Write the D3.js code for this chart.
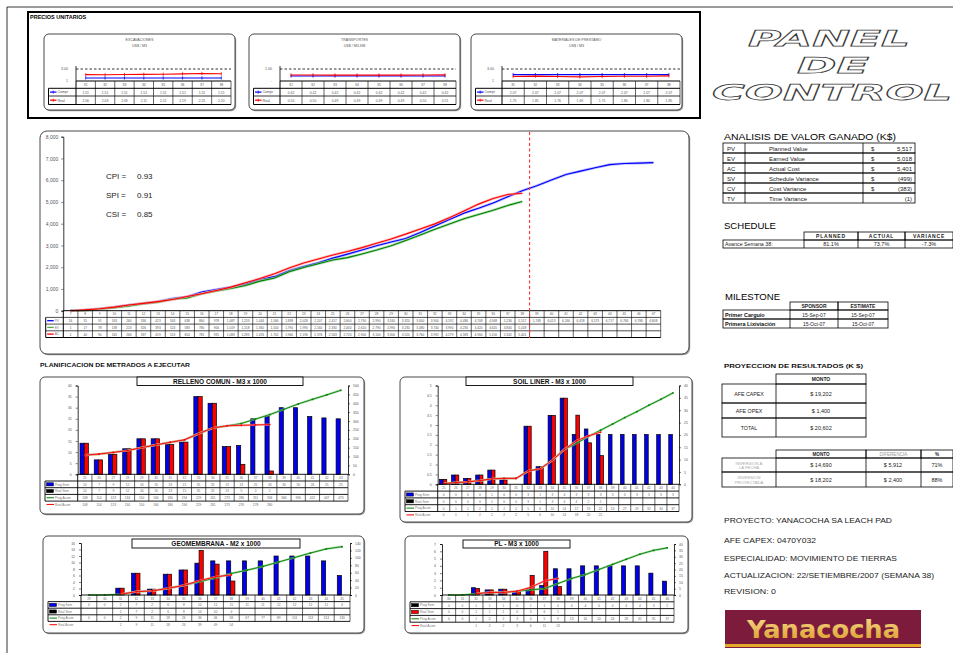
<!DOCTYPE html>
<html>
<head>
<meta charset="utf-8">
<script src="https://cdn.jsdelivr.net/npm/d3@7"></script>
<style>
  body { margin: 0; background: #fff; }
  svg { display: block; font-family: "Liberation Sans", Arial, sans-serif; }
</style>
</head>
<body>
<script>
// ---------- precios unitarios (semanas 31-38) ----------
var puWeeks  = ['31', '32', '33', '34', '35', '36', '37', '38'];
var excCompr = [1.51, 1.51, 1.51, 1.51, 1.51, 1.51, 1.51, 1.51];
var excReal  = [2.06, 2.03, 2.09, 2.11, 2.12, 2.19, 2.25, 2.20];
var traCompr = [0.42, 0.42, 0.42, 0.42, 0.42, 0.42, 0.42, 0.42];
var traReal  = [0.50, 0.50, 0.49, 0.49, 0.49, 0.49, 0.50, 0.51];
var matCompr = [2.07, 2.07, 2.07, 2.07, 2.07, 2.07, 2.07, 2.07];
var matReal  = [1.75, 1.81, 1.76, 1.69, 1.75, 1.80, 1.80, 1.85];

// ---------- curva S valor ganado (K$) ----------
var evWeeks = ['7','8','9','10','11','12','13','14','15','16','17','18','19','20','21','22','23','24','25','26','27',
               '28','29','30','31','32','33','34','35','36','37','38','39','40','41','42','43','44','45','46','47'];
var pvData = [16, 31, 91, 163, 260, 336, 423, 563, 638, 860, 978, 1087, 1233, 1444, 1566, 1838, 2028, 2207, 2417, 2600, 2790,
              2990, 3160, 3320, 3600, 3900, 4192, 4486, 4708, 4948, 5236, 5517, 5748, 6013, 6266, 6418, 6573, 6717, 6766, 6786, 6808];
var evData = [1, 17, 78, 138, 213, 326, 393, 524, 583, 780, 906, 1019, 1158, 1360, 1500, 1790, 1990, 2160, 2330, 2440, 2610,
              2790, 2990, 3230, 3480, 3740, 3990, 4230, 4420, 4620, 4840, 5018];
var acData = [1, 40, 90, 165, 264, 337, 419, 513, 654, 781, 931, 1083, 1283, 1476, 1702, 1960, 2196, 2376, 2563, 2720, 2900,
              3100, 3300, 3520, 3760, 3992, 4279, 4583, 4900, 5156, 5342, 5401];
var evTicks = [0, 1000, 2000, 3000, 4000, 5000, 6000, 7000, 8000];
var indexNames  = ['CPI =', 'SPI =', 'CSI ='];
var indexValues = ['0.93', '0.91', '0.85'];

// ---------- tablas de la derecha ----------
var evmCodes  = ['PV', 'EV', 'AC', 'SV', 'CV', 'TV'];
var evmNames  = ['Planned Value', 'Earned Value', 'Actual Cost', 'Schedule Variance', 'Cost Variance', 'Time Variance'];
var evmValues = ['5,517', '5,018', '5,401', '(499)', '(383)', '(1)'];
var schedHeads  = ['PLANNED', 'ACTUAL', 'VARIANCE'];
var schedValues = ['81.1%', '73.7%', '-7.3%'];
var mileHeads = ['SPONSOR', 'ESTIMATE'];
var mileNames = ['Primer Carguío', 'Primera Lixiviación'];
var mileDates = [['15-Sep-07', '15-Sep-07'], ['15-Oct-07', '15-Oct-07']];
var afeNames  = ['AFE CAPEX', 'AFE OPEX', 'TOTAL'];
var afeMontos = ['$ 19,202', '$ 1,400', '$ 20,602'];
var invNames  = [['INVERSION A', 'LA FECHA'], ['INVERSION', 'PROYECTADA']];
var invMontos = ['$ 14,690', '$ 18,202'];
var invDifs   = ['$ 5,912', '$ 2,400'];
var invPcts   = ['71%', '88%'];
var infoLines = ['PROYECTO: YANACOCHA SA LEACH PAD', 'AFE CAPEX: 0470Y032', 'ESPECIALIDAD: MOVIMIENTO DE TIERRAS',
                 'ACTUALIZACION: 22/SETIEMBRE/2007 (SEMANA 38)', 'REVISION: 0'];

// ---------- planificacion de metrados ----------
var rellCats = ['25','26','27','28','29','30','31','32','33','34','35','36','37','38','39','40','41','42','43'];
var rellProgSem  = [14, 6.5, 9, 11.5, 16, 16, 13.4, 14.5, 35, 32, 12.5, 13, 25, 26, 30, 30, 26, 25.4, 25];
var rellRealSem  = [14, 6.5, 9, 11.5, 16, 16, 13.4, 14.5, 35, 32, 12.5, 4.5, 0, 1.5];
var rellProgAcum = [108, 114, 123, 134, 150, 166, 180, 194, 229, 261, 273, 286, 311, 336, 366, 396, 422, 447, 473];
var rellRealAcum = [108, 114, 123, 134, 150, 166, 180, 194, 229, 261, 273, 276, 278, 280];

var soilCats = ['25','26','27','28','29','30','31','32','33','34','35','36','37','38','39','40','41','42','43','44'];
var soilProgSem  = [0.25, 0.47, 0.3, 0.47, 0.72, 0.22, 0, 2.94, 0.89, 3.49, 4.36, 2.52, 2.8, 2.52, 2.52, 2.52, 2.52, 2.52, 2.52, 2.52];
var soilRealSem  = [0.25, 0.47, 0.3, 0.47, 0.72, 0.22, 0, 2.94, 0.89, 3.49, 4.36, 3.5, 2.1, 1.45];
var soilProgAcum = [0.3, 0.7, 1, 1.5, 2.2, 2.4, 2.4, 5.4, 6.3, 9.7, 14.1, 16.6, 19.4, 21.9, 24.4, 27, 29.4, 32, 34.4, 37];
var soilRealAcum = [0.3, 0.7, 1, 1.5, 2.2, 2.4, 2.4, 5.4, 6.3, 9.7, 14.1, 17.6, 19.6, 21.1];

var geoCats = ['29','30','31','32','33','34','35','36','37','38','39','40','41','42','43','44','45'];
var geoProgSem  = [0, 0, 2.1, 6.7, 1.8, 6.4, 7.7, 9.8, 10.5, 10.5, 10.5, 10.5, 12, 12, 12, 10.5, 6];
var geoRealSem  = [null, null, 2.1, 6.7, 1.8, 6.4, 7.7, 13.7, 9.5, 4.3];
var geoProgAcum = [0, 0, 2, 9, 11, 18, 26, 36, 46, 58, 67, 77, 89, 101, 113, 124, 130];
var geoRealAcum = [null, null, 2, 9, 11, 18, 26, 39, 49, 54];

var plCats = ['30','31','32','33','34','35','36','37','38','39','40','41','42','43','44','45','46'];
var plProgSem  = [0, 0, 1, 0.7, 0.8, 0.45, 0.9, 1.3, 3.6, 3.6, 4, 4, 4, 4, 4, 3, 1.9];
var plRealSem  = [0, 0, 0.9, 0.7, 0.8, 0.45, 2.7, 6, 1.15];
var plProgAcum = [0, 0, 1, 2, 2, 3, 4, 5, 9, 13, 16, 20, 24, 28, 32, 35, 37];
var plRealAcum = [null, null, 1, 2, 2, 3, 6, 11, 13];

var rowNames = ['Prog Sem', 'Real Sem', 'Prog Acum', 'Real Acum'];

// ---------- page ----------
var svg = d3.select('body').append('svg')
  .attr('width', 953)
  .attr('height', 653);

var fmt0 = d3.format('.0f');
var fmt2 = d3.format('.2f');

function txt(g, x, y, s, size, anchor, fill, weight) {
  return g.append('text')
    .attr('x', x).attr('y', y)
    .attr('font-size', size)
    .attr('text-anchor', anchor || 'start')
    .attr('fill', fill || '#000')
    .attr('font-weight', weight || 'normal')
    .text(s);
}

function hline(g, x1, x2, y, w, col) {
  g.append('line').attr('x1', x1).attr('x2', x2).attr('y1', y).attr('y2', y)
    .attr('stroke', col || '#000').attr('stroke-width', w || 0.6);
}
function vline(g, x, y1, y2, w, col) {
  g.append('line').attr('x1', x).attr('x2', x).attr('y1', y1).attr('y2', y2)
    .attr('stroke', col || '#000').attr('stroke-width', w || 0.6);
}

function roundBox(g, x0, y0, x1, y1, r) {
  g.append('rect').attr('x', x0 + 1.2).attr('y', y0 + 1.2)
    .attr('width', x1 - x0).attr('height', y1 - y0).attr('rx', r)
    .attr('fill', '#9a9a9a');
  g.append('rect').attr('x', x0).attr('y', y0)
    .attr('width', x1 - x0).attr('height', y1 - y0).attr('rx', r)
    .attr('fill', '#fff').attr('stroke', '#333').attr('stroke-width', 0.9);
}

function styleAxis(a, size) {
  a.attr('font-family', null).attr('font-size', size);
  a.selectAll('text').attr('fill', '#555');
  a.selectAll('line').attr('stroke', '#000').attr('stroke-width', 0.5);
  a.select('.domain').attr('stroke', '#000').attr('stroke-width', 0.8);
}

// outer page lines
vline(svg, 7, 7, 653, 0.8);
hline(svg, 7, 953, 7, 0.8);

// ---------- PRECIOS UNITARIOS ----------
var gPu = svg.append('g');
gPu.append('rect').attr('x', 28).attr('y', 12).attr('width', 672).attr('height', 106)
  .attr('fill', 'none').attr('stroke', '#000').attr('stroke-width', 2);
txt(gPu, 30, 19, 'PRECIOS UNITARIOS', 5.5, 'start', '#000', 'bold');

var puPanels = [
  { x0: 44,  x1: 235, lab: 76,  right: 231, t1: 'EXCAVACIONES', t2: 'US$ / M3', compr: excCompr, real: excReal, dom: [1, 3], ticks: ['1', '3.00'] },
  { x0: 249, x1: 460, lab: 280, right: 456, t1: 'TRANSPORTES', t2: 'US$ / M3-KM', compr: traCompr, real: traReal, dom: [0, 1], ticks: ['-', '1.00'] },
  { x0: 471, x1: 682, lab: 502, right: 680, t1: 'MATERIALES DE PRESTAMO', t2: 'US$ / M3', compr: matCompr, real: matReal, dom: [1, 3], ticks: ['1', '3.00'] }
];

puPanels.forEach(function(p) {
  var g = gPu.append('g');
  roundBox(g, p.x0, 34, p.x1, 110, 5);
  txt(g, (p.x0 + p.x1) / 2, 41, p.t1, 3.6, 'middle', '#555');
  txt(g, (p.x0 + p.x1) / 2, 47, p.t2, 3.6, 'middle', '#555');

  var x = d3.scaleBand().domain(puWeeks).range([p.lab, p.right]);
  var y = d3.scaleLinear().domain(p.dom).range([81, 69]);
  var tl = p.x0 + 4.5;

  vline(g, p.lab, 66, 81, 0.8);
  g.append('line').attr('x1', p.lab).attr('x2', p.right).attr('y1', y(p.dom[1])).attr('y2', y(p.dom[1]))
    .attr('stroke', '#000').attr('stroke-width', 0.8).attr('stroke-dasharray', '2.5,2');
  txt(g, p.lab - 8, y(p.dom[1]) + 1.3, p.ticks[1], 3.6, 'end', '#555');
  txt(g, p.lab - 8, 81 + 1.3, p.ticks[0], 3.6, 'end', '#555');

  var line = d3.line()
    .x(function(d, i) { return x(puWeeks[i]) + x.bandwidth() / 2; })
    .y(function(d) { return y(d); });
  [[p.compr, '#0000ff'], [p.real, '#ff0000']].forEach(function(s) {
    g.append('path').attr('d', line(s[0])).attr('fill', 'none')
      .attr('stroke', s[1]).attr('stroke-width', 1.1);
    g.selectAll(null).data(s[0]).enter().append('line')
      .attr('x1', function(d, i) { return x(puWeeks[i]) + x.bandwidth() / 2; })
      .attr('x2', function(d, i) { return x(puWeeks[i]) + x.bandwidth() / 2; })
      .attr('y1', function(d) { return y(d) - 1.6; })
      .attr('y2', function(d) { return y(d) + 1.6; })
      .attr('stroke', s[1]).attr('stroke-width', 0.8);
  });

  // table
  var ys = [81, 88.3, 96, 104.5];
  hline(g, p.lab, p.right, ys[0], 1);
  hline(g, tl, p.right, ys[1], 1);
  hline(g, tl, p.right, ys[2], 0.8);
  hline(g, tl, p.right, ys[3], 1);
  vline(g, tl, ys[1], ys[3], 1);
  vline(g, p.lab, ys[0], ys[3], 1);
  puWeeks.forEach(function(w) { vline(g, x(w) + x.bandwidth(), ys[0], ys[3], 0.6); });
  puWeeks.forEach(function(w, i) {
    var cx = x(w) + x.bandwidth() / 2;
    txt(g, cx, 86, w, 3.4, 'middle', '#555');
    txt(g, cx, 93.5, fmt2(p.compr[i]), 3.4, 'middle', '#555');
    txt(g, cx, 101.6, fmt2(p.real[i]), 3.4, 'middle', '#555');
  });
  [['Compr', '#0000ff', 92.1], ['Real', '#ff0000', 100.2]].forEach(function(r) {
    hline(g, tl + 1.5, tl + 8, r[2], 1.2, r[1]);
    vline(g, tl + 4.7, r[2] - 1.5, r[2] + 1.5, 0.8, r[1]);
    txt(g, tl + 9, r[2] + 1.3, r[0], 3.6, 'start', '#555');
  });
});

// ---------- PANEL DE CONTROL ----------
var gTitle = svg.append('g')
  .attr('font-family', '"DejaVu Sans", sans-serif')
  .attr('font-weight', 'bold')
  .attr('font-style', 'italic');
[['PANEL', 748, 46, 162], ['DE', 797, 73, 72], ['CONTROL', 712, 100, 240]].forEach(function(t) {
  gTitle.append('text').attr('x', t[1]).attr('y', t[2])
    .attr('font-size', 22)
    .attr('textLength', t[3]).attr('lengthAdjust', 'spacingAndGlyphs')
    .attr('fill', '#fff').attr('stroke', '#3a3a3a').attr('stroke-width', 0.75)
    .text(t[0]);
});

// ---------- CURVA S ----------
var gEv = svg.append('g');
roundBox(gEv, 40, 131, 689, 354, 7);

var xEv = d3.scaleBand().domain(evWeeks).range([63.3, 660.7]);
var yEv = d3.scaleLinear().domain([0, 8000]).range([310.7, 136.7]);
var bwEv = xEv.bandwidth();

gEv.append('g').attr('transform', 'translate(63.3,0)')
  .call(d3.axisLeft(yEv).tickValues(evTicks).tickFormat(d3.format(',')).tickSize(2).tickPadding(3))
  .call(function(a) { styleAxis(a, 5); });

function evLine(data) {
  return d3.line()
    .x(function(d, i) { return xEv(evWeeks[i]) + bwEv / 2; })
    .y(function(d) { return yEv(d); })(data);
}

[[pvData, '#0000ff', '#9c9cff'], [evData, '#008000', '#8fd08f'], [acData, '#ff0000', '#ff9c9c']].forEach(function(s) {
  gEv.append('path').attr('d', evLine(s[0])).attr('fill', 'none')
    .attr('stroke', s[2]).attr('stroke-width', 2.6).attr('stroke-opacity', 0.7);
  gEv.append('path').attr('d', evLine(s[0])).attr('fill', 'none')
    .attr('stroke', s[1]).attr('stroke-width', 1.1);
});

indexNames.forEach(function(n, i) {
  var yy = 179 + i * 19;
  txt(gEv, 106, yy, n, 8, 'start', '#222');
  txt(gEv, 137, yy, indexValues[i], 8, 'start', '#222');
});

// tabla curva S
var evRows = [310.7, 317.4, 324.1, 330.8, 337.5];
var evTl = 45.7;
hline(gEv, 63.3, 660.7, evRows[0], 1);
for (var r = 1; r < evRows.length; r++) hline(gEv, evTl, 660.7, evRows[r], r === evRows.length - 1 ? 1 : 0.7);
vline(gEv, evTl, evRows[1], evRows[4], 1);
vline(gEv, 63.3, evRows[0], evRows[4], 1);
evWeeks.forEach(function(w) { vline(gEv, xEv(w) + bwEv, evRows[0], evRows[4], 0.6); });
var fmtK = d3.format(',');
evWeeks.forEach(function(w, i) {
  var cx = xEv(w) + bwEv / 2;
  txt(gEv, cx, 315.4, w, 3.2, 'middle', '#555');
  txt(gEv, cx, 322.1, fmtK(pvData[i]), 3.2, 'middle', '#555');
  if (evData[i] != null) txt(gEv, cx, 328.8, fmtK(evData[i]), 3.2, 'middle', '#555');
  if (acData[i] != null) txt(gEv, cx, 335.5, fmtK(acData[i]), 3.2, 'middle', '#555');
});
[['PV', '#0000ff', 320.7], ['EV', '#55aa55', 327.4], ['AC', '#ff0000', 334.1]].forEach(function(l) {
  hline(gEv, evTl + 1.5, evTl + 8, l[2], 1.3, l[1]);
  txt(gEv, evTl + 9, l[2] + 1.2, l[0], 3.2, 'start', '#777');
});

// corte semana 38
var cutX = xEv('38') + bwEv;
gEv.append('line').attr('x1', cutX).attr('x2', cutX).attr('y1', 132).attr('y2', 338)
  .attr('stroke', '#ff3333').attr('stroke-width', 1.1).attr('stroke-dasharray', '3,2.5');

// ---------- ANALISIS DE VALOR GANADO ----------
var gR = svg.append('g');
txt(gR, 724, 140, 'ANALISIS DE VALOR GANADO (K$)', 8.5).attr('textLength', 172).attr('lengthAdjust', 'spacingAndGlyphs');
var evmY = d3.scaleBand().domain(evmCodes).range([143, 203]);
evmCodes.forEach(function(c, i) {
  var y0 = evmY(c), h = evmY.bandwidth();
  gR.append('rect').attr('x', 723).attr('y', y0).attr('width', 192).attr('height', h)
    .attr('fill', 'none').attr('stroke', '#000').attr('stroke-width', 0.8);
  vline(gR, 745, y0, y0 + h, 0.8);
  vline(gR, 863, y0, y0 + h, 0.8);
  txt(gR, 727, y0 + h - 2.5, c, 6, 'start', '#222');
  txt(gR, 769, y0 + h - 2.5, evmNames[i], 6, 'start', '#222');
  if (c !== 'TV') txt(gR, 871, y0 + h - 2.5, '$', 6, 'start', '#222');
  txt(gR, 912, y0 + h - 2.5, evmValues[i], 6, 'end', '#222');
});

// ---------- SCHEDULE ----------
txt(gR, 724, 229, 'SCHEDULE', 8.5).attr('textLength', 52).attr('lengthAdjust', 'spacingAndGlyphs');
var schX = [723, 804, 858, 905, 953];
schedHeads.forEach(function(h, i) {
  gR.append('rect').attr('x', schX[i + 1]).attr('y', 232).attr('width', schX[i + 2] - schX[i + 1]).attr('height', 8)
    .attr('fill', 'none').attr('stroke', '#000').attr('stroke-width', 0.8);
  txt(gR, (schX[i + 1] + schX[i + 2]) / 2, 238.3, h, 5, 'middle', '#222', 'bold').attr('letter-spacing', 0.8);
});
gR.append('rect').attr('x', 723).attr('y', 240).attr('width', 230).attr('height', 8)
  .attr('fill', 'none').attr('stroke', '#000').attr('stroke-width', 0.8);
for (var s = 1; s < 4; s++) vline(gR, schX[s], 240, 248, 0.8);
txt(gR, 725, 246.2, 'Avance Semana 38:', 5.3, 'start', '#222');
schedValues.forEach(function(v, i) {
  txt(gR, (schX[i + 1] + schX[i + 2]) / 2, 246.2, v, 5.5, 'middle', '#222');
});

// ---------- MILESTONE ----------
txt(gR, 725, 300, 'MILESTONE', 8.5).attr('textLength', 55).attr('lengthAdjust', 'spacingAndGlyphs');
var msX = [723, 790, 838, 888];
mileHeads.forEach(function(h, i) {
  gR.append('rect').attr('x', msX[i + 1]).attr('y', 302).attr('width', msX[i + 2] - msX[i + 1]).attr('height', 8)
    .attr('fill', 'none').attr('stroke', '#000').attr('stroke-width', 0.8);
  txt(gR, (msX[i + 1] + msX[i + 2]) / 2, 308.2, h, 5, 'middle', '#222', 'bold');
});
mileNames.forEach(function(n, i) {
  var y0 = 310 + i * 9;
  gR.append('rect').attr('x', 723).attr('y', y0).attr('width', 165).attr('height', 9)
    .attr('fill', 'none').attr('stroke', '#000').attr('stroke-width', 0.8);
  vline(gR, 790, y0, y0 + 9, 0.8);
  vline(gR, 838, y0, y0 + 9, 0.8);
  txt(gR, 725, y0 + 6.8, n, 5.5, 'start', '#111', 'bold');
  txt(gR, 814, y0 + 6.6, mileDates[i][0], 5, 'middle', '#222');
  txt(gR, 863, y0 + 6.6, mileDates[i][1], 5, 'middle', '#222');
});

// ---------- PROYECCION ----------
txt(gR, 724, 368, 'PROYECCION DE RESULTADOS (K $)', 6.2, 'start', '#111', 'bold').attr('textLength', 139).attr('lengthAdjust', 'spacingAndGlyphs');
var p1Y = [374, 384, 403, 418, 437];
gR.append('rect').attr('x', 776).attr('y', 374).attr('width', 90).attr('height', 10)
  .attr('fill', 'none').attr('stroke', '#000').attr('stroke-width', 0.8);
txt(gR, 821, 381.2, 'MONTO', 5, 'middle', '#222', 'bold');
afeNames.forEach(function(n, i) {
  var y0 = p1Y[i + 1], y1 = p1Y[i + 2];
  gR.append('rect').attr('x', 722).attr('y', y0).attr('width', 144).attr('height', y1 - y0)
    .attr('fill', 'none').attr('stroke', '#000').attr('stroke-width', 0.8);
  vline(gR, 776, y0, y1, 0.8);
  txt(gR, 749, (y0 + y1) / 2 + 2, n, 5.3, 'middle', '#222');
  txt(gR, 821, (y0 + y1) / 2 + 2, afeMontos[i], 5.5, 'middle', '#222');
});

var p2X = [722, 776, 866, 921, 953];
var p2Y = [450, 458, 472, 487];
[['MONTO', '#222', 'bold'], ['DIFERENCIA', '#999', 'normal'], ['%', '#222', 'bold']].forEach(function(h, i) {
  gR.append('rect').attr('x', p2X[i + 1]).attr('y', 450).attr('width', p2X[i + 2] - p2X[i + 1]).attr('height', 8)
    .attr('fill', 'none').attr('stroke', '#000').attr('stroke-width', 0.8);
  txt(gR, (p2X[i + 1] + p2X[i + 2]) / 2, 456, h[0], 4.6, 'middle', h[1], h[2]);
});
invNames.forEach(function(n, i) {
  var y0 = p2Y[i + 1], y1 = p2Y[i + 2], cy = (y0 + y1) / 2;
  gR.append('rect').attr('x', 722).attr('y', y0).attr('width', 231).attr('height', y1 - y0)
    .attr('fill', 'none').attr('stroke', '#000').attr('stroke-width', 0.8);
  for (var k = 1; k < 4; k++) vline(gR, p2X[k], y0, y1, 0.8);
  txt(gR, 749, cy - 0.5, n[0], 4.2, 'middle', '#aaa');
  txt(gR, 749, cy + 4.3, n[1], 4.2, 'middle', '#aaa');
  txt(gR, 821, cy + 2, invMontos[i], 5.5, 'middle', '#222');
  txt(gR, 893, cy + 2, invDifs[i], 5.5, 'middle', '#222');
  txt(gR, 937, cy + 2, invPcts[i], 5.5, 'middle', '#222');
});

// ---------- info proyecto ----------
var infoY = [523, 543, 561, 578, 594];
var infoW = [168, 92, 173, 210, 52];
infoLines.forEach(function(l, i) {
  txt(gR, 724, infoY[i], l, 7.5, 'start', '#222').attr('textLength', infoW[i]).attr('lengthAdjust', 'spacingAndGlyphs');
});

// logo
gR.append('rect').attr('x', 725).attr('y', 610).attr('width', 196).attr('height', 38).attr('fill', '#7d1b3d');
gR.append('rect').attr('x', 725).attr('y', 644).attr('width', 196).attr('height', 3).attr('fill', '#e3a92c');
var grad = svg.append('defs').append('linearGradient').attr('id', 'gold').attr('x1', 0).attr('y1', 0).attr('x2', 0).attr('y2', 1);
grad.append('stop').attr('offset', '0%').attr('stop-color', '#f6d98a');
grad.append('stop').attr('offset', '100%').attr('stop-color', '#d99a22');
gR.append('text').attr('x', 747).attr('y', 638)
  .attr('font-family', '"DejaVu Sans", sans-serif').attr('font-weight', 'bold')
  .attr('font-size', 24).attr('fill', 'url(#gold)')
  .attr('textLength', 153).attr('lengthAdjust', 'spacingAndGlyphs')
  .text('Yanacocha');

// ---------- PLANIFICACION DE METRADOS ----------
txt(svg, 40, 367, 'PLANIFICACION DE METRADOS A EJECUTAR', 6, 'start', '#111', 'bold')
  .attr('textLength', 150).attr('lengthAdjust', 'spacingAndGlyphs');

function barChart(c) {
  var g = svg.append('g');
  roundBox(g, c.box[0], c.box[1], c.box[2], c.box[3], 5);
  g.append('rect').attr('x', c.tbox[0]).attr('y', c.tbox[1]).attr('width', c.tbox[2] - c.tbox[0])
    .attr('height', c.tbox[3] - c.tbox[1]).attr('fill', '#fff').attr('stroke', '#000').attr('stroke-width', 0.9);
  txt(g, (c.tbox[0] + c.tbox[2]) / 2, c.tbox[3] - 1.8, c.title, 6.5, 'middle', '#111', 'bold');

  var x = d3.scaleBand().domain(c.cats).range([c.left, c.right]);
  var bw = x.bandwidth();
  var yL = d3.scaleLinear().domain([0, c.lMax]).range([c.zero, c.top]);
  var yR = d3.scaleLinear().domain([0, c.rMax]).range([c.zero, c.top]);

  g.append('g').attr('transform', 'translate(' + c.left + ',0)')
    .call(d3.axisLeft(yL).tickValues(c.lTicks).tickFormat(d3.format('')).tickSize(2).tickPadding(4))
    .call(function(a) { styleAxis(a, 3.4); });
  g.append('g').attr('transform', 'translate(' + c.right + ',0)')
    .call(d3.axisRight(yR).tickValues(c.rTicks).tickFormat(d3.format('')).tickSize(2).tickPadding(3))
    .call(function(a) { styleAxis(a, 3.4); });

  // barras semanales
  var bwid = Math.min(4.2, bw * 0.3);
  c.cats.forEach(function(k, i) {
    var cx = x(k) + bw / 2;
    var ps = c.progSem[i], rs = c.realSem[i];
    if (ps) {
      g.append('rect').attr('x', cx - bwid - 0.6).attr('y', yL(ps)).attr('width', bwid).attr('height', c.zero - yL(ps))
        .attr('fill', c.progCol).attr('stroke', '#000').attr('stroke-width', 0.7);
    }
    if (rs) {
      g.append('rect').attr('x', cx - 0.6).attr('y', yL(rs)).attr('width', bwid).attr('height', c.zero - yL(rs))
        .attr('fill', '#ff0000').attr('stroke', '#000').attr('stroke-width', 0.7);
    }
  });

  // lineas acumuladas
  var line = d3.line()
    .defined(function(d) { return d != null; })
    .x(function(d, i) { return x(c.cats[i]) + bw / 2; })
    .y(function(d) { return yR(d); });
  [[c.progAcum, '#008000', '#88cc88'], [c.realAcum, '#ff0000', '#ff9999']].forEach(function(s) {
    g.append('path').attr('d', line(s[0])).attr('fill', 'none')
      .attr('stroke', s[2]).attr('stroke-width', 2.2).attr('stroke-opacity', 0.7);
    g.append('path').attr('d', line(s[0])).attr('fill', 'none')
      .attr('stroke', s[1]).attr('stroke-width', 0.9);
    var pts = s[0].map(function(d, i) { return { i: i, v: d }; })
      .filter(function(d) { return d.v != null; });
    g.selectAll(null).data(pts).enter().append('rect')
      .attr('x', function(d) { return x(c.cats[d.i]) + bw / 2 - 0.8; })
      .attr('y', function(d) { return yR(d.v) - 0.8; })
      .attr('width', 1.6).attr('height', 1.6).attr('fill', s[1]);
  });

  // tabla
  var rh = c.rh, ys = [];
  for (var r = 0; r <= 4; r++) ys.push(c.zero + r * rh);
  hline(g, c.left, c.right, ys[0], 0.9);
  for (var r2 = 1; r2 <= 4; r2++) hline(g, c.tl, c.right, ys[r2], 0.9);
  vline(g, c.tl, ys[1], ys[4], 0.9);
  vline(g, c.left, ys[0], ys[4], 0.9);
  c.cats.forEach(function(k) { vline(g, x(k) + bw, ys[0], ys[4], 0.6); });
  var series = [c.progSem, c.realSem, c.progAcum, c.realAcum];
  c.cats.forEach(function(k, i) {
    var cx = x(k) + bw / 2;
    txt(g, cx, ys[0] + rh - 2, k, 3.2, 'middle', '#666');
    series.forEach(function(sv, j) {
      if (i < sv.length && sv[i] != null) txt(g, cx, ys[j + 1] + rh - 2, fmt0(sv[i]), 3.2, 'middle', '#666');
    });
  });
  rowNames.forEach(function(n, j) {
    var cy = ys[j + 1] + rh / 2;
    if (j < 2) {
      g.append('rect').attr('x', c.tl + 1.5).attr('y', cy - 1.6).attr('width', 7).attr('height', 3.2)
        .attr('fill', c.legCols[j]).attr('stroke', '#000').attr('stroke-width', 0.5);
    } else {
      hline(g, c.tl + 1.5, c.tl + 9, cy, 1, j === 2 ? '#008000' : '#ff0000');
    }
    txt(g, c.tl + 10, cy + 1.2, n, 3.2, 'start', '#777');
  });
}

barChart({
  box: [40, 377, 364, 514], tbox: [137, 377, 303, 385.5], title: 'RELLENO COMUN - M3 x 1000',
  cats: rellCats, progSem: rellProgSem, realSem: rellRealSem, progAcum: rellProgAcum, realAcum: rellRealAcum,
  left: 77.7, right: 348, top: 385.5, zero: 474.3, tl: 45, rh: 6.7,
  lMax: 40, lTicks: [0, 5, 10, 15, 20, 25, 30, 35, 40],
  rMax: 500, rTicks: [0, 50, 100, 150, 200, 250, 300, 350, 400, 450, 500],
  progCol: '#0000ee', legCols: ['#0000ee', '#000']
});

barChart({
  box: [400, 377, 692, 522], tbox: [466, 377, 633, 385.5], title: 'SOIL LINER - M3 x 1000',
  cats: soilCats, progSem: soilProgSem, realSem: soilRealSem, progAcum: soilProgAcum, realAcum: soilRealAcum,
  left: 437.7, right: 679, top: 385.5, zero: 484.3, tl: 405, rh: 6.8,
  lMax: 5, lTicks: [0, 0.5, 1, 1.5, 2, 2.5, 3, 3.5, 4, 4.5, 5],
  rMax: 40, rTicks: [0, 5, 10, 15, 20, 25, 30, 35, 40],
  progCol: '#0000ee', legCols: ['#0000ee', '#000']
});

barChart({
  box: [43, 536, 364, 633], tbox: [132, 539, 300, 548], title: 'GEOMEMBRANA - M2 x 1000',
  cats: geoCats, progSem: geoProgSem, realSem: geoRealSem, progAcum: geoProgAcum, realAcum: geoRealAcum,
  left: 81, right: 350, top: 543, zero: 595, tl: 48, rh: 6.6,
  lMax: 16, lTicks: [0, 2, 4, 6, 8, 10, 12, 14, 16],
  rMax: 140, rTicks: [0, 20, 40, 60, 80, 100, 120, 140],
  progCol: '#0000ee', legCols: ['#0000ee', '#000']
});

barChart({
  box: [405, 536, 688, 633], tbox: [463, 540, 570, 548], title: 'PL - M3 x 1000',
  cats: plCats, progSem: plProgSem, realSem: plRealSem, progAcum: plProgAcum, realAcum: plRealAcum,
  left: 442, right: 674, top: 544, zero: 595, tl: 410, rh: 6.8,
  lMax: 7, lTicks: [0, 1, 2, 3, 4, 5, 6, 7],
  rMax: 40, rTicks: [0, 5, 10, 15, 20, 25, 30, 35, 40],
  progCol: '#0000ee', legCols: ['#000', '#ff0000']
});
</script>
</body>
</html>
